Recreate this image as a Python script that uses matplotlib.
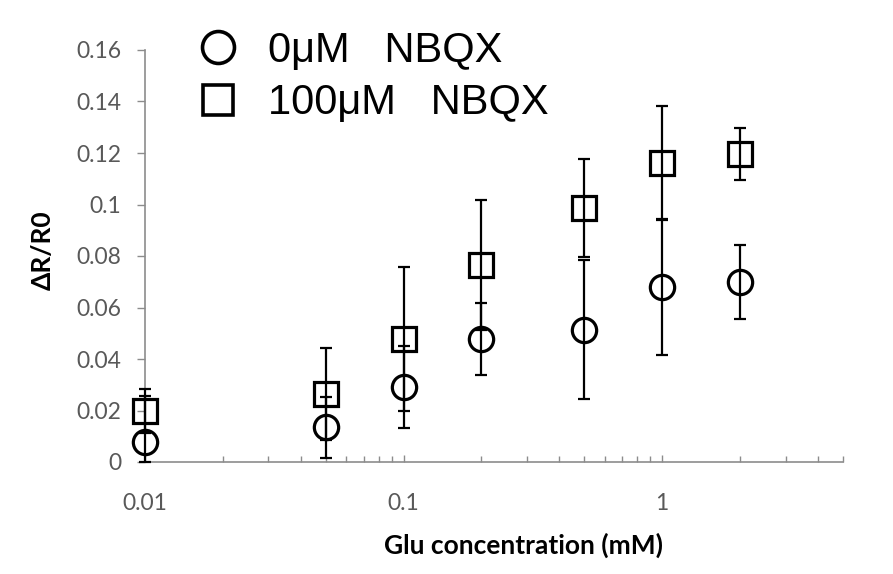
import numpy as np
import matplotlib.pyplot as plt
from matplotlib.lines import Line2D
from matplotlib.ticker import LogLocator, NullFormatter, FixedLocator, FixedFormatter

# Glutamate concentrations (mM)
glu = [0.01, 0.05, 0.1, 0.2, 0.5, 1, 2]

# dR/R0 without NBQX
mean_0 = [0.0078, 0.0134, 0.0291, 0.0476, 0.0513, 0.0680, 0.0700]
err_0 = [0.0180, 0.0120, 0.0160, 0.0140, 0.0270, 0.0264, 0.0143]

# dR/R0 with 100 uM NBQX
mean_100 = [0.0198, 0.0264, 0.0478, 0.0765, 0.0986, 0.1161, 0.1196]
err_100 = [0.0086, 0.0180, 0.0280, 0.0252, 0.0191, 0.0222, 0.0100]

y_ticks = [0, 0.02, 0.04, 0.06, 0.08, 0.1, 0.12, 0.14, 0.16]
y_tick_labels = ["0", "0.02", "0.04", "0.06", "0.08", "0.1", "0.12", "0.14", "0.16"]
x_ticks = [0.01, 0.1, 1]
x_tick_labels = ["0.01", "0.1", "1"]

label_font = "Lato"
tick_color = "#595959"
axis_color = "#8c8c8c"


def bars(mean, err):
    # error bars stop at the x axis
    mean = np.array(mean)
    err = np.array(err)
    return np.vstack([np.minimum(err, mean), err])


fig = plt.figure(figsize=(8.93, 5.74), dpi=100)
ax = fig.add_axes([145 / 893, 112 / 574, 698 / 893, 412 / 574])

style = dict(fmt="none", ecolor="black", elinewidth=1.6, capsize=4, capthick=1.6)
for m, e in [(mean_0, err_0), (mean_100, err_100)]:
    eb = ax.errorbar(glu, m, yerr=bars(m, e), **style)
    for art in eb.lines[1] + eb.lines[2]:
        art.set_clip_on(False)
ax.plot(glu, mean_0, ls="none", marker="o", ms=17.5, mfc="none", mec="black",
        mew=2.3, clip_on=False)
ax.plot(glu, mean_100, ls="none", marker="s", ms=17.5, mfc="none", mec="black",
        mew=2.3, clip_on=False)

ax.set_xscale("log")
ax.set_xlim(0.01, 5)
ax.set_ylim(0, 0.16)

ax.xaxis.set_major_locator(FixedLocator(x_ticks))
ax.xaxis.set_major_formatter(FixedFormatter(x_tick_labels))
ax.xaxis.set_minor_locator(LogLocator(base=10, subs=np.arange(2, 10)))
ax.xaxis.set_minor_formatter(NullFormatter())
ax.yaxis.set_major_locator(FixedLocator(y_ticks))
ax.yaxis.set_major_formatter(FixedFormatter(y_tick_labels))

for side in ["top", "right"]:
    ax.spines[side].set_visible(False)
for side in ["left", "bottom"]:
    ax.spines[side].set_color(axis_color)
    ax.spines[side].set_linewidth(1.2)
    ax.spines[side].set_zorder(0.5)

ax.tick_params(axis="x", which="major", direction="in", length=5, width=1,
               color=axis_color, pad=22, labelsize=16.5, labelcolor=tick_color)
ax.tick_params(axis="x", which="minor", direction="in", length=4, width=1,
               color=axis_color)
ax.tick_params(axis="y", direction="out", length=6, width=1,
               color=axis_color, pad=11, labelsize=16.5, labelcolor=tick_color)
for lbl in ax.get_xticklabels() + ax.get_yticklabels():
    lbl.set_fontfamily(label_font)

fig.text(524 / 893, 1 - 545 / 574, "Glu concentration (mM)", ha="center", va="center",
         fontsize=19, fontweight="bold", family=label_font)
fig.text(43 / 893, 1 - 250 / 574, "ΔR/R0", ha="center", va="center", rotation=90,
         fontsize=19, fontweight="bold", family=label_font)

handles = [
    Line2D([], [], ls="none", marker="o", ms=23, mfc="none", mec="black", mew=2.6),
    Line2D([], [], ls="none", marker="s", ms=21, mfc="none", mec="black", mew=2.6),
]
fig.legend(handles, ["0μM   NBQX", "100μM   NBQX"], loc="upper left",
           bbox_to_anchor=(172 / 893, 1 - 10 / 574), frameon=False,
           prop={"family": "Liberation Sans", "size": 30},
           handletextpad=0.6, labelspacing=0.3, handlelength=1.2, borderpad=0)

fig.savefig("out.png", dpi=100)
